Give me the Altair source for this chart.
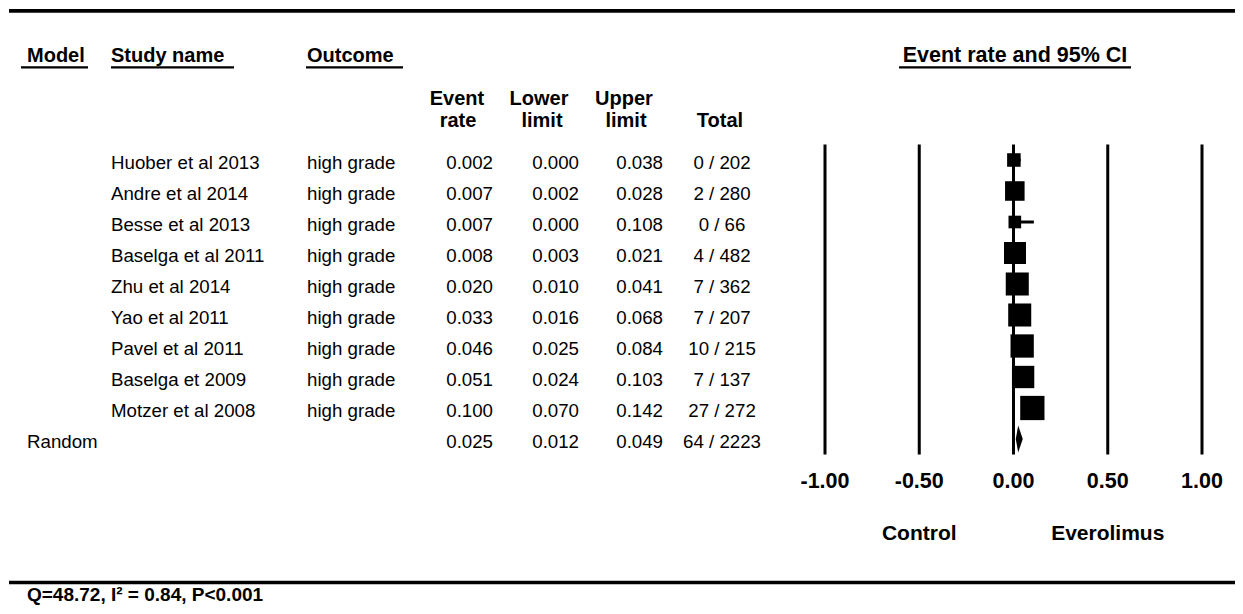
import altair as alt
import pandas as pd

FONT = "Liberation Sans"

# ---------------- data ----------------
studies = ["Huober et al 2013", "Andre et al 2014", "Besse et al 2013", "Baselga et al 2011",
           "Zhu et al 2014", "Yao et al 2011", "Pavel et al 2011", "Baselga et 2009",
           "Motzer et al 2008"]
outcomes = ["high grade"] * 9
event_rate = [0.002, 0.007, 0.007, 0.008, 0.020, 0.033, 0.046, 0.051, 0.100]
lower_limit = [0.000, 0.002, 0.000, 0.003, 0.010, 0.016, 0.025, 0.024, 0.070]
upper_limit = [0.038, 0.028, 0.108, 0.021, 0.041, 0.068, 0.084, 0.103, 0.142]
events = [0, 2, 0, 4, 7, 7, 10, 7, 27]
totals = [202, 280, 66, 482, 362, 207, 215, 137, 272]
weights = [4.7, 9.8, 4.1, 12.4, 13.6, 13.6, 13.9, 12.8, 15.1]  # relative weight (%)

pooled_model = "Random"
pooled_rate = 0.025
pooled_lower = 0.012
pooled_upper = 0.049
pooled_events = 64
pooled_total = 2223

tick_values = [-1.0, -0.5, 0.0, 0.5, 1.0]
tick_labels = ["-1.00", "-0.50", "0.00", "0.50", "1.00"]
side_labels = ["Control", "Everolimus"]
side_values = [-0.5, 0.5]
footer = "Q=48.72, I\u00b2 = 0.84, P<0.001"

# ---------------- tables ----------------
n = len(studies)
table = pd.DataFrame({
    "row": list(range(n + 1)),
    "model": [""] * n + [pooled_model],
    "study": studies + [""],
    "outcome": outcomes + [""],
    "rate_s": [f"{v:.3f}" for v in event_rate + [pooled_rate]],
    "lower_s": [f"{v:.3f}" for v in lower_limit + [pooled_lower]],
    "upper_s": [f"{v:.3f}" for v in upper_limit + [pooled_upper]],
    "total_s": [f"{e} / {t}" for e, t in zip(events + [pooled_events], totals + [pooled_total])],
})
study_df = pd.DataFrame({
    "row": list(range(n)),
    "rate": event_rate,
    "lower": lower_limit,
    "upper": upper_limit,
    "weight": weights,
})
HALF = 0.435
diamond_df = pd.DataFrame({
    "x": [pooled_lower, pooled_rate, pooled_upper],
    "ytop": [n, n - HALF, n],
    "ybot": [n, n + HALF, n],
})
ref_df = pd.DataFrame({"x": tick_values, "lab": tick_labels, "y0": -0.5, "y1": n + 0.5})
side_df = pd.DataFrame({"x": side_values, "lab": side_labels})

W, H = 1227, 598
xs = alt.Scale(domain=[-1, 1], range=[817, 1194], nice=False, zero=False)
ys = alt.Scale(domain=[0, n], range=[152, 431], nice=False, zero=False)

X = lambda f: alt.X(f, scale=xs, axis=None)
Y = lambda f: alt.Y(f, scale=ys, axis=None)

one = alt.Data(values=[{"a": 1}])


def label(txt, x, y, size=20, weight="bold", align="left"):
    return alt.Chart(one).mark_text(
        text=txt, align=align, baseline="alphabetic", font=FONT, fontSize=size,
        fontWeight=weight, color="black"
    ).encode(x=alt.value(x), y=alt.value(y))


def hline(x1, x2, y, sw):
    return alt.Chart(one).mark_rule(color="black", strokeWidth=sw).encode(
        x=alt.value(x1), x2=alt.value(x2), y=alt.value(y))


layers = []

# frame lines
layers.append(hline(1, W, 2.9, 3.7))
layers.append(hline(1, W, 574.5, 3.6))

# headers
layers += [
    label("Model", 19, 54.3),
    label("Study name", 103, 54.3),
    label("Outcome", 299, 54.3),
    label("Event rate and 95% CI", 1007, 54.3, size=21.5, align="center"),
    hline(13, 80, 59.3, 2.2),
    hline(103, 226, 59.3, 2.2),
    hline(298, 395, 59.3, 2.2),
    hline(891, 1123, 59.3, 2.2),
    label("Event", 449, 96.5, align="center"),
    label("rate", 450, 119.3, align="center"),
    label("Lower", 531, 96.5, align="center"),
    label("limit", 534, 119.3, align="center"),
    label("Upper", 616, 96.5, align="center"),
    label("limit", 618, 119.3, align="center"),
    label("Total", 712, 119.3, align="center"),
]

# table text
def col(field, x, align):
    return alt.Chart(table).mark_text(
        align=align, baseline="alphabetic", dy=8.7, font=FONT, fontSize=18.7, color="black"
    ).encode(x=alt.value(x), y=Y("row:Q"), text=f"{field}:N")

layers += [
    col("model", 19, "left"),
    col("study", 103, "left"),
    col("outcome", 299, "left"),
    col("rate_s", 485, "right"),
    col("lower_s", 571, "right"),
    col("upper_s", 655, "right"),
    col("total_s", 714, "center"),
]

# forest plot
layers.append(alt.Chart(ref_df).mark_rule(color="black", strokeWidth=3).encode(
    x=X("x:Q"), y=Y("y0:Q"), y2="y1:Q"))
layers.append(alt.Chart(study_df).mark_rule(color="black", strokeWidth=3).encode(
    x=X("lower:Q"), x2="upper:Q", y=Y("row:Q")))
layers.append(alt.Chart(study_df).mark_square(color="black", opacity=1).encode(
    x=X("rate:Q"), y=Y("row:Q"),
    size=alt.Size("weight:Q", scale=alt.Scale(domain=[0, 16], range=[0, 624]), legend=None)))
layers.append(alt.Chart(diamond_df).mark_area(color="black", opacity=1, orient="vertical").encode(
    x=X("x:Q"), y=Y("ytop:Q"), y2="ybot:Q"))
layers.append(alt.Chart(ref_df).mark_text(
    baseline="alphabetic", align="center", font=FONT, fontSize=21.5, fontWeight="bold", color="black"
).encode(x=X("x:Q"), y=alt.value(479.7), text="lab:N"))
layers.append(alt.Chart(side_df).mark_text(
    baseline="alphabetic", align="center", font=FONT, fontSize=21, fontWeight="bold", color="black"
).encode(x=X("x:Q"), y=alt.value(532), text="lab:N"))

# footer
layers.append(label(footer, 19, 593, size=19))

chart = alt.layer(*layers).properties(
    width=W, height=H, padding=0, autosize=alt.AutoSizeParams(type="none")
).configure(background="white", view=alt.ViewConfig(stroke=None))

chart.save("out.html", embed_options={"renderer": "svg", "actions": False})
